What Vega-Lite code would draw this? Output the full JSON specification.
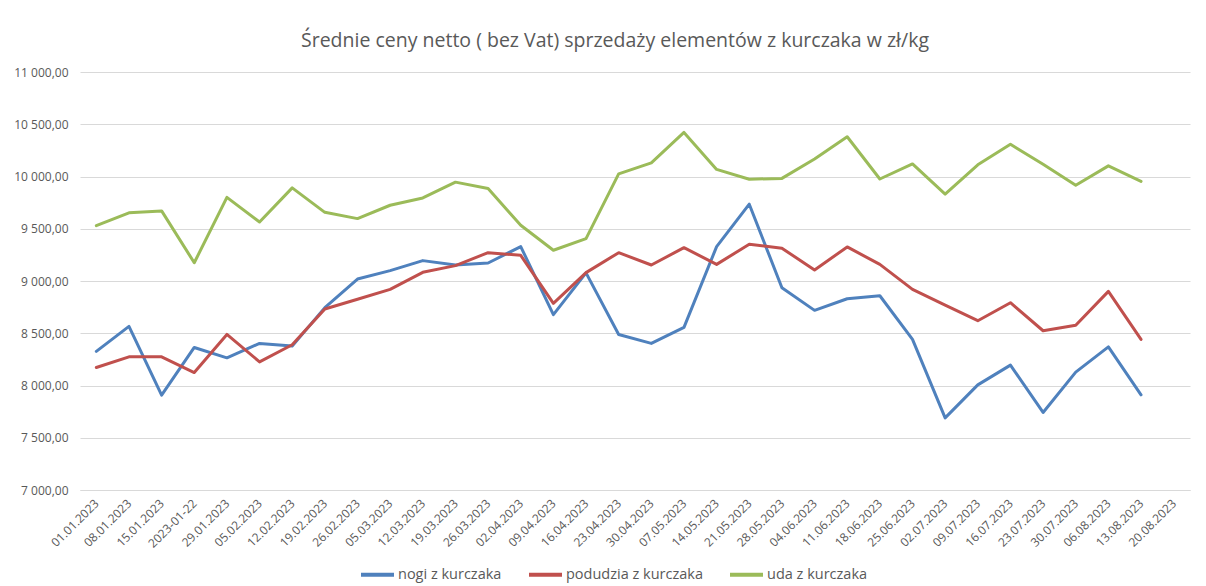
{
  "$schema": "https://vega.github.io/schema/vega-lite/v6.json",
  "width": 1110,
  "height": 418,
  "autosize": {"type": "none"},
  "padding": {"left": 80, "top": 72, "right": 16, "bottom": 96},
  "background": "white",
  "config": {
    "locale": {"number": {"decimal": ",", "thousands": " ", "grouping": [3], "currency": ["", " zł"]}},
    "view": {"stroke": null},
    "font": "Open Sans"
  },
  "title": {
    "text": "Średnie ceny netto ( bez Vat) sprzedaży elementów z kurczaka w zł/kg",
    "font": "Open Sans",
    "fontSize": 19.5,
    "fontWeight": "normal",
    "color": "#595959",
    "anchor": "middle",
    "dx": -20,
    "offset": 15
  },
  "datasets": {
    "rows": [
      {"d": "01.01.2023", "s": "nogi z kurczaka", "v": 8326},
      {"d": "08.01.2023", "s": "nogi z kurczaka", "v": 8566},
      {"d": "15.01.2023", "s": "nogi z kurczaka", "v": 7907},
      {"d": "2023-01-22", "s": "nogi z kurczaka", "v": 8364},
      {"d": "29.01.2023", "s": "nogi z kurczaka", "v": 8265},
      {"d": "05.02.2023", "s": "nogi z kurczaka", "v": 8403},
      {"d": "12.02.2023", "s": "nogi z kurczaka", "v": 8377},
      {"d": "19.02.2023", "s": "nogi z kurczaka", "v": 8745},
      {"d": "26.02.2023", "s": "nogi z kurczaka", "v": 9019},
      {"d": "05.03.2023", "s": "nogi z kurczaka", "v": 9099},
      {"d": "12.03.2023", "s": "nogi z kurczaka", "v": 9195},
      {"d": "19.03.2023", "s": "nogi z kurczaka", "v": 9153},
      {"d": "26.03.2023", "s": "nogi z kurczaka", "v": 9172},
      {"d": "02.04.2023", "s": "nogi z kurczaka", "v": 9329},
      {"d": "09.04.2023", "s": "nogi z kurczaka", "v": 8678},
      {"d": "16.04.2023", "s": "nogi z kurczaka", "v": 9078},
      {"d": "23.04.2023", "s": "nogi z kurczaka", "v": 8488},
      {"d": "30.04.2023", "s": "nogi z kurczaka", "v": 8403},
      {"d": "07.05.2023", "s": "nogi z kurczaka", "v": 8556},
      {"d": "14.05.2023", "s": "nogi z kurczaka", "v": 9329},
      {"d": "21.05.2023", "s": "nogi z kurczaka", "v": 9735},
      {"d": "28.05.2023", "s": "nogi z kurczaka", "v": 8936},
      {"d": "04.06.2023", "s": "nogi z kurczaka", "v": 8719},
      {"d": "11.06.2023", "s": "nogi z kurczaka", "v": 8830},
      {"d": "18.06.2023", "s": "nogi z kurczaka", "v": 8859},
      {"d": "25.06.2023", "s": "nogi z kurczaka", "v": 8441},
      {"d": "02.07.2023", "s": "nogi z kurczaka", "v": 7690},
      {"d": "09.07.2023", "s": "nogi z kurczaka", "v": 8006},
      {"d": "16.07.2023", "s": "nogi z kurczaka", "v": 8195},
      {"d": "23.07.2023", "s": "nogi z kurczaka", "v": 7742},
      {"d": "30.07.2023", "s": "nogi z kurczaka", "v": 8128},
      {"d": "06.08.2023", "s": "nogi z kurczaka", "v": 8370},
      {"d": "13.08.2023", "s": "nogi z kurczaka", "v": 7911},

      {"d": "01.01.2023", "s": "podudzia z kurczaka", "v": 8172},
      {"d": "08.01.2023", "s": "podudzia z kurczaka", "v": 8274},
      {"d": "15.01.2023", "s": "podudzia z kurczaka", "v": 8274},
      {"d": "2023-01-22", "s": "podudzia z kurczaka", "v": 8124},
      {"d": "29.01.2023", "s": "podudzia z kurczaka", "v": 8489},
      {"d": "05.02.2023", "s": "podudzia z kurczaka", "v": 8226},
      {"d": "12.02.2023", "s": "podudzia z kurczaka", "v": 8390},
      {"d": "19.02.2023", "s": "podudzia z kurczaka", "v": 8732},
      {"d": "26.02.2023", "s": "podudzia z kurczaka", "v": 8825},
      {"d": "05.03.2023", "s": "podudzia z kurczaka", "v": 8920},
      {"d": "12.03.2023", "s": "podudzia z kurczaka", "v": 9083},
      {"d": "19.03.2023", "s": "podudzia z kurczaka", "v": 9147},
      {"d": "26.03.2023", "s": "podudzia z kurczaka", "v": 9271},
      {"d": "02.04.2023", "s": "podudzia z kurczaka", "v": 9246},
      {"d": "09.04.2023", "s": "podudzia z kurczaka", "v": 8786},
      {"d": "16.04.2023", "s": "podudzia z kurczaka", "v": 9080},
      {"d": "23.04.2023", "s": "podudzia z kurczaka", "v": 9271},
      {"d": "30.04.2023", "s": "podudzia z kurczaka", "v": 9153},
      {"d": "07.05.2023", "s": "podudzia z kurczaka", "v": 9319},
      {"d": "14.05.2023", "s": "podudzia z kurczaka", "v": 9159},
      {"d": "21.05.2023", "s": "podudzia z kurczaka", "v": 9352},
      {"d": "28.05.2023", "s": "podudzia z kurczaka", "v": 9314},
      {"d": "04.06.2023", "s": "podudzia z kurczaka", "v": 9105},
      {"d": "11.06.2023", "s": "podudzia z kurczaka", "v": 9326},
      {"d": "18.06.2023", "s": "podudzia z kurczaka", "v": 9159},
      {"d": "25.06.2023", "s": "podudzia z kurczaka", "v": 8920},
      {"d": "02.07.2023", "s": "podudzia z kurczaka", "v": 8770},
      {"d": "09.07.2023", "s": "podudzia z kurczaka", "v": 8620},
      {"d": "16.07.2023", "s": "podudzia z kurczaka", "v": 8792},
      {"d": "23.07.2023", "s": "podudzia z kurczaka", "v": 8524},
      {"d": "30.07.2023", "s": "podudzia z kurczaka", "v": 8576},
      {"d": "06.08.2023", "s": "podudzia z kurczaka", "v": 8901},
      {"d": "13.08.2023", "s": "podudzia z kurczaka", "v": 8441},

      {"d": "01.01.2023", "s": "uda z kurczaka", "v": 9530},
      {"d": "08.01.2023", "s": "uda z kurczaka", "v": 9652},
      {"d": "15.01.2023", "s": "uda z kurczaka", "v": 9671},
      {"d": "2023-01-22", "s": "uda z kurczaka", "v": 9175},
      {"d": "29.01.2023", "s": "uda z kurczaka", "v": 9800},
      {"d": "05.02.2023", "s": "uda z kurczaka", "v": 9565},
      {"d": "12.02.2023", "s": "uda z kurczaka", "v": 9891},
      {"d": "19.02.2023", "s": "uda z kurczaka", "v": 9657},
      {"d": "26.02.2023", "s": "uda z kurczaka", "v": 9597},
      {"d": "05.03.2023", "s": "uda z kurczaka", "v": 9725},
      {"d": "12.03.2023", "s": "uda z kurczaka", "v": 9795},
      {"d": "19.03.2023", "s": "uda z kurczaka", "v": 9946},
      {"d": "26.03.2023", "s": "uda z kurczaka", "v": 9885},
      {"d": "02.04.2023", "s": "uda z kurczaka", "v": 9534},
      {"d": "09.04.2023", "s": "uda z kurczaka", "v": 9294},
      {"d": "16.04.2023", "s": "uda z kurczaka", "v": 9405},
      {"d": "23.04.2023", "s": "uda z kurczaka", "v": 10025},
      {"d": "30.04.2023", "s": "uda z kurczaka", "v": 10131},
      {"d": "07.05.2023", "s": "uda z kurczaka", "v": 10422},
      {"d": "14.05.2023", "s": "uda z kurczaka", "v": 10068},
      {"d": "21.05.2023", "s": "uda z kurczaka", "v": 9974},
      {"d": "28.05.2023", "s": "uda z kurczaka", "v": 9982},
      {"d": "04.06.2023", "s": "uda z kurczaka", "v": 10167},
      {"d": "11.06.2023", "s": "uda z kurczaka", "v": 10380},
      {"d": "18.06.2023", "s": "uda z kurczaka", "v": 9976},
      {"d": "25.06.2023", "s": "uda z kurczaka", "v": 10120},
      {"d": "02.07.2023", "s": "uda z kurczaka", "v": 9831},
      {"d": "09.07.2023", "s": "uda z kurczaka", "v": 10112},
      {"d": "16.07.2023", "s": "uda z kurczaka", "v": 10308},
      {"d": "23.07.2023", "s": "uda z kurczaka", "v": 10118},
      {"d": "30.07.2023", "s": "uda z kurczaka", "v": 9917},
      {"d": "06.08.2023", "s": "uda z kurczaka", "v": 10102},
      {"d": "13.08.2023", "s": "uda z kurczaka", "v": 9953}
    ]
  },
  "data": {"name": "rows"},
  "mark": {"type": "line", "strokeWidth": 3, "strokeJoin": "round", "strokeCap": "round"},
  "encoding": {
    "x": {
      "field": "d",
      "type": "ordinal",
      "sort": null,
      "scale": {
        "type": "point",
        "padding": 0.5,
        "domain": ["01.01.2023", "08.01.2023", "15.01.2023", "2023-01-22", "29.01.2023", "05.02.2023", "12.02.2023", "19.02.2023", "26.02.2023", "05.03.2023", "12.03.2023", "19.03.2023", "26.03.2023", "02.04.2023", "09.04.2023", "16.04.2023", "23.04.2023", "30.04.2023", "07.05.2023", "14.05.2023", "21.05.2023", "28.05.2023", "04.06.2023", "11.06.2023", "18.06.2023", "25.06.2023", "02.07.2023", "09.07.2023", "16.07.2023", "23.07.2023", "30.07.2023", "06.08.2023", "13.08.2023", "20.08.2023"]
      },
      "axis": {
        "title": null,
        "labelAngle": -45,
        "labelAlign": "right",
        "labelBaseline": "middle",
        "labelFontSize": 12,
        "labelColor": "#595959",
        "labelOverlap": false,
        "ticks": false,
        "grid": false,
        "domainColor": "#d9d9d9",
        "labelPadding": 11
      }
    },
    "y": {
      "field": "v",
      "type": "quantitative",
      "scale": {"domain": [7000, 11000], "nice": false, "zero": false},
      "axis": {
        "title": null,
        "values": [7000, 7500, 8000, 8500, 9000, 9500, 10000, 10500, 11000],
        "format": ",.2f",
        "domain": false,
        "ticks": false,
        "gridColor": "#d9d9d9",
        "labelColor": "#595959",
        "labelFontSize": 12,
        "labelPadding": 12
      }
    },
    "color": {
      "field": "s",
      "type": "nominal",
      "scale": {
        "domain": ["nogi z kurczaka", "podudzia z kurczaka", "uda z kurczaka"],
        "range": ["#4F81BD", "#C0504D", "#9BBB59"]
      },
      "legend": {
        "orient": "none",
        "legendX": 279,
        "legendY": 484,
        "direction": "horizontal",
        "title": null,
        "symbolType": "stroke",
        "symbolSize": 1089,
        "symbolStrokeWidth": 4,
        "labelFontSize": 14.5,
        "labelColor": "#595959",
        "columnPadding": 19,
        "labelOffset": 2
      }
    }
  }
}
